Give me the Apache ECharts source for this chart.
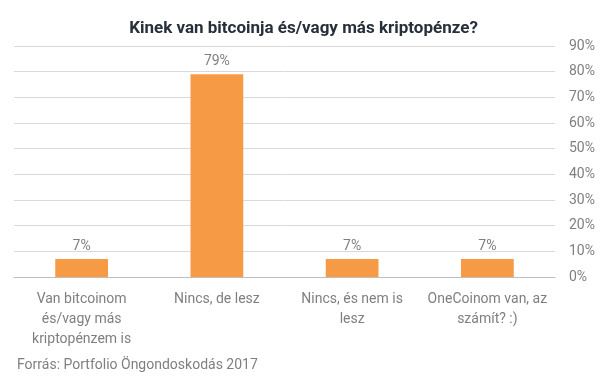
<!DOCTYPE html>
<html><head><meta charset="utf-8">
<script src="https://cdn.jsdelivr.net/npm/echarts@6/dist/echarts.min.js"></script>
<style>html,body{margin:0;padding:0;background:#fff}#c{width:607px;height:380px}</style>
</head><body><div id="c"></div>
<script>
var categories = ["Van bitcoinom\nés/vagy más\nkriptopénzem is", "Nincs, de lesz", "Nincs, és nem is\nlesz", "OneCoinom van, az\nszámít? :)"];
var values = [7, 79, 7, 7];
var yTicks = [0, 10, 20, 30, 40, 50, 60, 70, 80, 90];
var chart = echarts.init(document.getElementById('c'));
chart.setOption({
  animation: false,
  title: [{
    text: 'Kinek van bitcoinja és/vagy más kriptopénze?',
    left: 'center', top: 15,
    textStyle: {fontFamily: 'Roboto', fontWeight: 'bold', fontSize: 17, color: '#262f3a'}
  }, {
    text: 'Forrás: Portfolio Öngondoskodás 2017',
    left: 12, top: 353,
    textStyle: {fontFamily: 'Roboto', fontWeight: 'normal', fontSize: 14, color: '#7f7f7f'}
  }],
  grid: {left: 14, right: 52, top: 46, bottom: 103, containLabel: false},
  xAxis: {
    type: 'category', data: categories,
    axisLine: {show: true, lineStyle: {color: '#bfbfbf'}},
    axisTick: {show: false},
    axisLabel: {fontFamily: 'Roboto', fontSize: 14, color: '#7f7f7f', lineHeight: 20, margin: 12, interval: 0}
  },
  yAxis: {
    type: 'value', position: 'right', min: yTicks[0], max: yTicks[yTicks.length-1], interval: 10,
    axisLine: {show: false}, axisTick: {show: false},
    splitLine: {lineStyle: {color: '#d9d9d9'}},
    axisLabel: {formatter: '{value}%', fontFamily: 'Roboto', fontSize: 14, color: '#7f7f7f', margin: 14}
  },
  series: [{
    type: 'bar', data: values, barWidth: '39%',
    itemStyle: {color: '#f79a46'},
    label: {show: true, position: 'top', formatter: '{c}%', fontFamily: 'Roboto', fontSize: 14, color: '#7f7f7f', distance: 6}
  }]
});
</script></body></html>
